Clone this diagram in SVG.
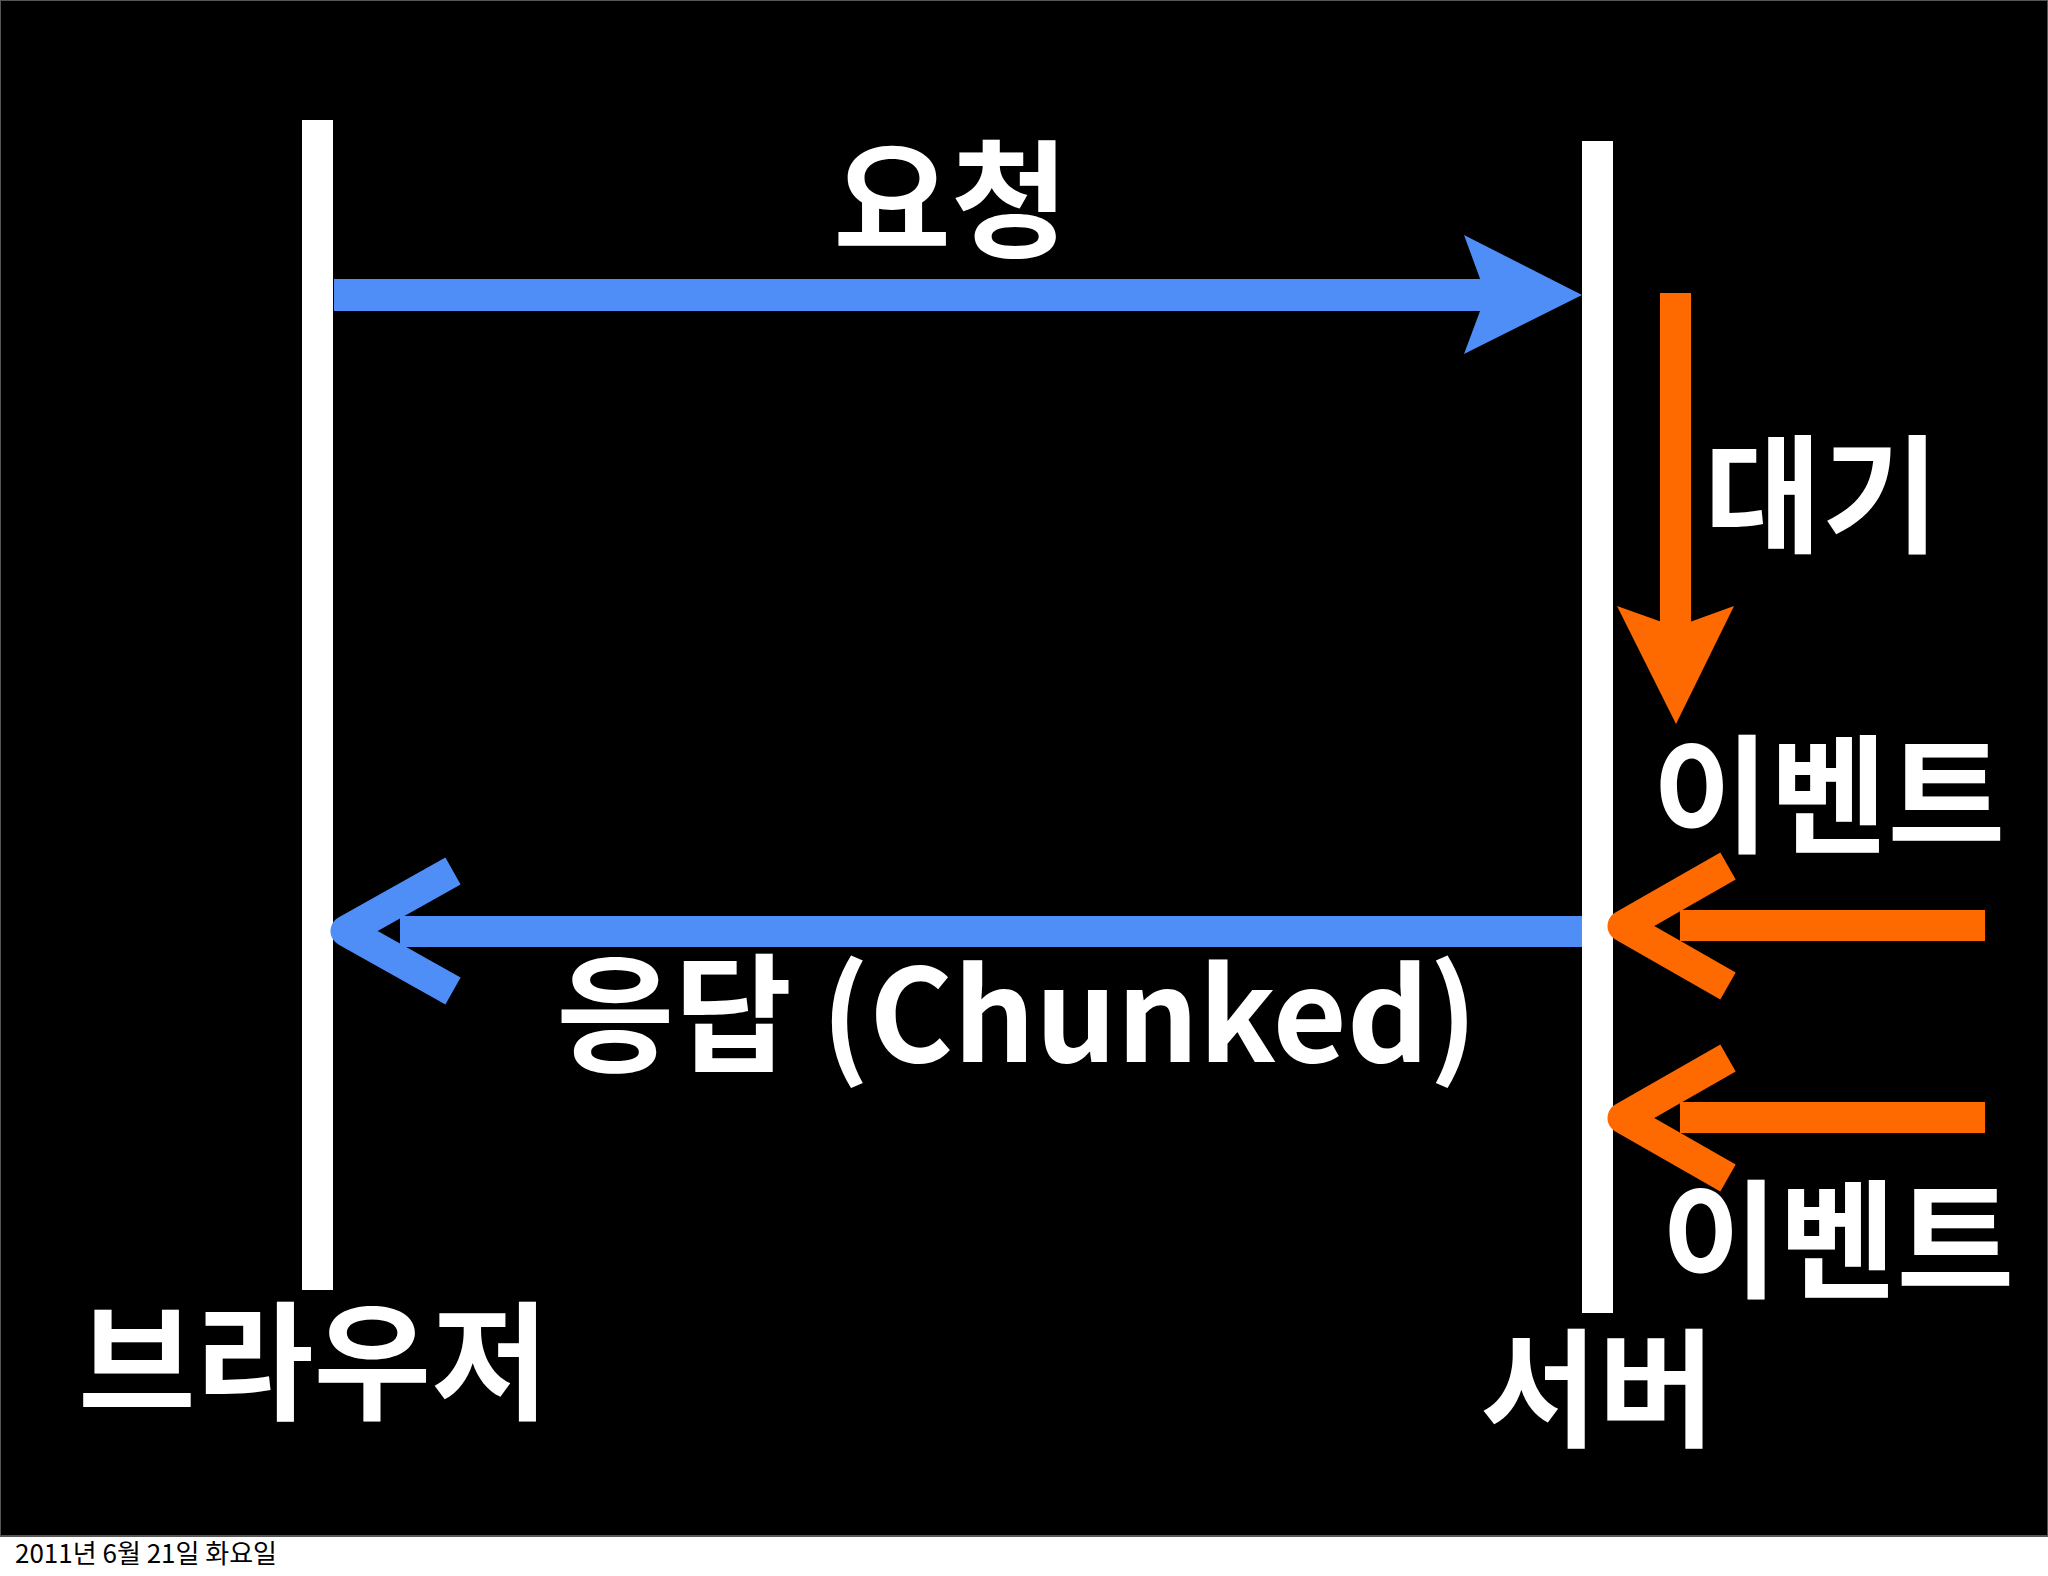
<svg xmlns="http://www.w3.org/2000/svg" width="2048" height="1576" viewBox="0 0 2048 1576">
<style>
.t{font-family:"Noto Sans CJK KR","Noto Sans",sans-serif;font-weight:bold;fill:#fff;font-size:128px}
.blue{fill:#4f8ef7}.org{fill:#ff6a00}
.bc{fill:none;stroke:#4f8ef7;stroke-width:31;stroke-linejoin:round}
.oc{fill:none;stroke:#ff6a00;stroke-width:31;stroke-linejoin:round}
</style>
<rect width="2048" height="1576" fill="#fff"/>
<rect x="0" y="0" width="2048" height="1536" fill="#000" stroke="#555" stroke-width="2"/>
<g id="browser"><rect x="302" y="120" width="31" height="1170" fill="#fff"/><text class="t" x="78" y="1410">브라우저</text></g>
<g id="server"><rect x="1582" y="141" width="31" height="1172" fill="#fff"/><text class="t" x="1480" y="1437">서버</text></g>
<g id="connectors">
<rect class="blue" x="334" y="279" width="1160" height="32"/>
<polygon class="blue" points="1464,235 1582,295 1464,354 1486,295"/>
<rect class="org" x="1660" y="293" width="31" height="340"/>
<polygon class="org" points="1617,606 1676,724 1734,606 1676,627"/>
<rect class="blue" x="400" y="916" width="1182" height="31"/>
<polyline class="bc" points="453,871 346,931 453,991"/>
<rect class="org" x="1680" y="910" width="305" height="31"/>
<polyline class="oc" points="1728,866 1623,926 1728,986"/>
<rect class="org" x="1680" y="1102" width="305" height="31"/>
<polyline class="oc" points="1728,1058 1623,1118 1728,1178"/>
</g>
<g id="labels">
<text class="t" x="951" y="248" text-anchor="middle">요청</text>
<text class="t" x="1704" y="543">대기</text>
<text class="t" x="1652" y="843">이벤트</text>
<text class="t" x="1017" y="1062" text-anchor="middle">응답 (Chunked)</text>
<text class="t" x="1661" y="1288">이벤트</text>
</g>
<text x="15" y="1563" style="font-family:'Noto Sans CJK KR',sans-serif;font-size:26px;fill:#000">2011년 6월 21일 화요일</text>
</svg>
